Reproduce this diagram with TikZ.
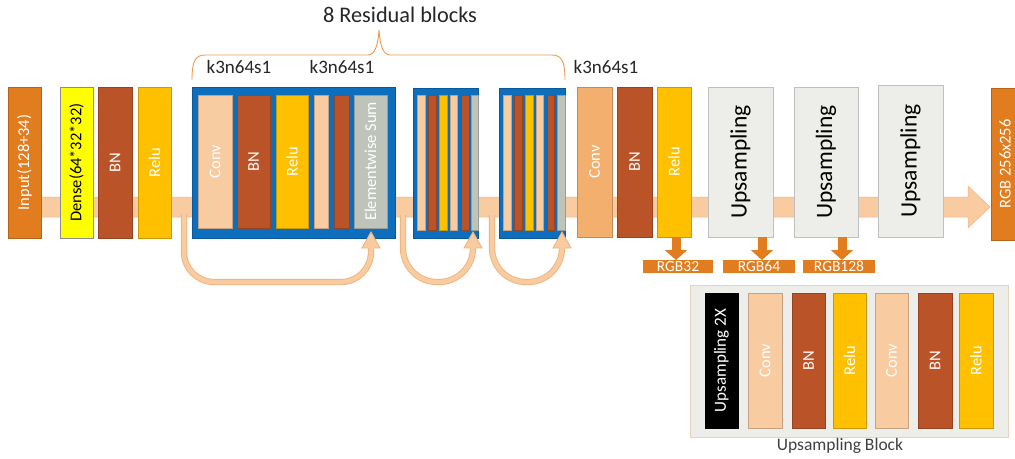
\documentclass[tikz,border=0pt]{standalone}
\usepackage{fontspec}
\setmainfont{Carlito}
\usepackage{graphicx}
\usetikzlibrary{arrows.meta}
\definecolor{orangeD}{HTML}{E27D1F}
\definecolor{yel}{HTML}{FFFF00}
\definecolor{brn}{HTML}{BA5428}
\definecolor{gold}{HTML}{FFC000}
\definecolor{peach}{HTML}{F8CBA0}
\definecolor{convR}{HTML}{F3AF6E}
\definecolor{gry}{HTML}{BEC4BA}
\definecolor{blu}{HTML}{0E6EBE}
\definecolor{upc}{HTML}{EDEDE9}
\definecolor{skipO}{HTML}{EFB47E}
\definecolor{braceC}{HTML}{EC9A4C}
\definecolor{txt}{HTML}{262626}
\newcommand\fsA{\fontsize{16.5}{19}\selectfont}
\newcommand\fsU{\fontsize{23.5}{28}\selectfont}
\newcommand\bx[7]{%
 \pgfmathsetmacro\bw{#4-#2}%
 \pgfmathsetmacro\bh{#5-#3}%
 \node[#6, minimum width=\bw pt, minimum height=\bh pt] (#1) at ({(#2+#4)/2},{(#3+#5)/2}) {#7};}
\newcommand\rt[1]{\rotatebox{90}{#1}}
\tikzset{
 box/.style={inner sep=0pt, outer sep=0pt, fill=#1, draw=#1!80!black, line width=0.4pt, text=white, font=\fsA},
 frame/.style={inner sep=0pt, outer sep=0pt, fill=blu, draw=blu!80!black, line width=0.4pt},
 upbox/.style={inner sep=0pt, outer sep=0pt, fill=upc, draw=black!25, line width=0.6pt, font=\fsU},
 skip/.style={draw=skipO, double=peach, double distance=4.5pt, line width=0.9pt},
 skiphead/.style={fill=peach},
 skipedge/.style={draw=skipO, line width=0.9pt, line join=miter},
 down/.style={draw=orangeD, line width=9pt, -{Triangle[width=22pt,length=10pt]}},
 lbl/.style={inner sep=0pt, outer sep=0pt, fill=orangeD, text=white, font=\fontsize{15.5}{17}\selectfont},
 ktext/.style={font=\fontsize{19}{22}\selectfont, text=txt, inner sep=0pt},
}
\begin{document}
\begin{tikzpicture}[x=1pt,y=-1pt]
\clip (0,0) rectangle (1015,458);
\useasboundingbox (0,0) rectangle (1015,458);
% main band with arrowhead
\filldraw[fill=peach, draw=skipO, line width=0.5pt] (20,197) -- (968,197) -- (968,186) -- (990,207) -- (968,228) -- (968,217) -- (20,217) -- cycle;
% first layers
\bx{in}{8}{87}{41}{238}{box=orangeD}{\rt{Input(128+34)}}
\bx{dense}{60}{87}{93}{238}{box=yel, draw=black!45, text=black}{\rt{Dense(64*32*32)}}
\bx{bn0}{98}{87}{132}{238}{box=brn}{\rt{BN}}
\bx{relu0}{138}{87}{171}{238}{box=gold}{\rt{Relu}}
% residual block 1
\bx{res1}{192}{87}{395}{238}{frame}{}
\bx{r1conv}{198}{95}{232}{228}{box=peach}{\rt{Conv}}
\bx{r1bn}{237}{95}{270}{228}{box=brn}{\rt{BN}}
\bx{r1relu}{276}{95}{308}{228}{box=gold}{\rt{Relu}}
\bx{r1conv2}{314}{95}{328}{228}{box=peach}{}
\bx{r1bn2}{334}{95}{349}{228}{box=brn}{}
\bx{r1sum}{354}{95}{387}{228}{box=gry}{\rt{Elementwise Sum}}
% residual block 2
\bx{res2}{413}{88}{478}{238}{frame}{}
\bx{r2a}{417}{95}{425}{230}{box=peach}{}
\bx{r2b}{428}{95}{436}{230}{box=brn}{}
\bx{r2c}{439}{95}{447}{230}{box=gold}{}
\bx{r2d}{450}{95}{457}{230}{box=peach}{}
\bx{r2e}{461}{95}{469}{230}{box=brn}{}
\bx{r2f}{471}{95}{478}{230}{box=gry}{}
% residual block 3
\bx{res3}{499}{88}{565}{238}{frame}{}
\bx{r3a}{503}{95}{511}{230}{box=peach}{}
\bx{r3b}{514}{95}{522}{230}{box=brn}{}
\bx{r3c}{525}{95}{533}{230}{box=gold}{}
\bx{r3d}{536}{95}{543}{230}{box=peach}{}
\bx{r3e}{547}{95}{554}{230}{box=brn}{}
\bx{r3f}{557}{95}{565}{230}{box=gry}{}
% right part
\bx{conv}{577}{87}{612}{237}{box=convR}{\rt{Conv}}
\bx{bn}{617}{87}{652}{237}{box=brn}{\rt{BN}}
\bx{relu}{657}{87}{691}{237}{box=gold}{\rt{Relu}}
\bx{up1}{708}{87}{773}{237}{upbox}{\rt{Upsampling}}
\bx{up2}{794}{87}{858}{237}{upbox}{\rt{Upsampling}}
\bx{up3}{878}{85}{943}{237}{upbox}{\rt{Upsampling}}
\bx{out}{991}{88}{1019}{240}{box=orangeD, font=\fontsize{16.5}{19}\selectfont}{\rt{RGB 256x256}}
% output labels
\bx{rgb32}{643}{260}{713}{273}{lbl}{RGB32}
\bx{rgb64}{723}{260}{795}{273}{lbl}{RGB64}
\bx{rgb128}{803}{260}{875}{273}{lbl}{RGB128}
\draw[down] ([xshift=2pt]relu.south) -- ([xshift=2pt]relu.south |- rgb32.north);
\draw[down] ([xshift=3pt]rgb64.north |- up1.south) -- ([xshift=3pt]rgb64.north);
\draw[down] ([xshift=3pt]rgb128.north |- up2.south) -- ([xshift=3pt]rgb128.north);
% skip connections
\coordinate (s1a) at (184,214);
\coordinate (s1b) at (371,232);
\coordinate (s2a) at (403,215);
\coordinate (s2b) at (473,232);
\coordinate (s3a) at (492,215);
\coordinate (s3b) at (562,232);
\foreach \a/\b/\r in {s1a/s1b/30, s2a/s2b/34, s3a/s3b/34}{
  \draw[skip, rounded corners=\r pt] (\a) -- (\a |- 0,282) -- (\b |- 0,282) -- ([yshift=-14pt]\b);
  \fill[skiphead] ([xshift=-9pt,yshift=-16pt]\b) -- (\b) -- ([xshift=9pt,yshift=-16pt]\b) -- cycle;
  \draw[skipedge] ([xshift=-3.3pt,yshift=-16pt]\b) -- ([xshift=-9pt,yshift=-16pt]\b) -- (\b) -- ([xshift=9pt,yshift=-16pt]\b) -- ([xshift=3.3pt,yshift=-16pt]\b);
}
% brace and labels
\draw[braceC, line width=0.9pt] (192,80) .. controls (192,62) and (195,55) .. (205,55) -- (368,55) .. controls (375,55) and (378,45) .. (379,30) .. controls (380,45) and (383,55) .. (390,55) -- (552,55) .. controls (562,55) and (565,62) .. (565,80);
\node[font=\fontsize{22.3}{26}\selectfont, text=txt, inner sep=0pt] (title) at (400,15) {8 Residual blocks};
\node[ktext] (k1) at (239,67) {k3n64s1};
\node[ktext] (k2) at (342,67) {k3n64s1};
\node[ktext] (k3) at (606,67) {k3n64s1};
% upsampling block detail
\bx{ublock}{690}{285}{1008}{437}{inner sep=0pt, fill=upc, draw=brown!35, line width=0.8pt}{}
\bx{u0}{705}{293}{738}{428}{box=black, font=\fontsize{17}{20}\selectfont}{\rt{Upsampling 2X}}
\bx{u1}{748}{293}{782}{428}{box=peach}{\rt{Conv}}
\bx{u2}{792}{293}{825}{428}{box=brn}{\rt{BN}}
\bx{u3}{833}{293}{866}{428}{box=gold}{\rt{Relu}}
\bx{u4}{875}{293}{908}{428}{box=peach}{\rt{Conv}}
\bx{u5}{918}{293}{952}{428}{box=brn}{\rt{BN}}
\bx{u6}{959}{293}{993}{428}{box=gold}{\rt{Relu}}
\node[font=\fontsize{17.5}{20}\selectfont, text=black!75, inner sep=0pt] (ublabel) at (840,446) {Upsampling Block};
\end{tikzpicture}
\end{document}
